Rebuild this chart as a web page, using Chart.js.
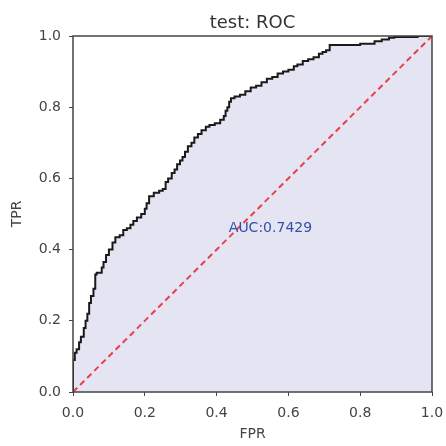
<!DOCTYPE html>
<html>
<head>
<meta charset="utf-8">
<script src="https://cdn.jsdelivr.net/npm/chart.js@4.4.1/dist/chart.umd.min.js"></script>
<style>
    html, body { margin: 0; padding: 0; background: #fff; }
    #wrap { width: 446px; height: 446px; }
</style>
</head>
<body>
<div id="wrap"><canvas id="roc"></canvas></div>
<script>
    // ROC curve points (false positive rate / true positive rate)
    const fpr = [0, 0, 0.005, 0.01, 0.017, 0.022, 0.03, 0.035, 0.04, 0.045, 0.05, 0.057, 0.062, 0.066,
        0.08, 0.085, 0.092, 0.1, 0.11, 0.118, 0.13, 0.14, 0.15, 0.16, 0.168, 0.178, 0.19, 0.2, 0.205,
        0.212, 0.225, 0.24, 0.25, 0.258, 0.265, 0.275, 0.283, 0.29, 0.298, 0.305, 0.312, 0.32, 0.33,
        0.338, 0.348, 0.358, 0.37, 0.38, 0.395, 0.41, 0.42, 0.425, 0.43, 0.435, 0.44, 0.45, 0.465,
        0.48, 0.495, 0.51, 0.525, 0.54, 0.555, 0.57, 0.585, 0.6, 0.615, 0.625, 0.64, 0.655, 0.67,
        0.685, 0.695, 0.705, 0.715, 0.722, 0.76, 0.8, 0.84, 0.86, 0.88, 0.895, 0.96, 0.98, 1];
    const tpr = [0, 0.075, 0.09, 0.11, 0.12, 0.14, 0.155, 0.18, 0.2, 0.22, 0.25, 0.27, 0.29, 0.33,
        0.335, 0.35, 0.365, 0.385, 0.4, 0.42, 0.435, 0.44, 0.455, 0.46, 0.47, 0.48, 0.49, 0.5, 0.515,
        0.53, 0.55, 0.56, 0.565, 0.57, 0.59, 0.6, 0.615, 0.625, 0.64, 0.65, 0.66, 0.675, 0.69,
        0.7, 0.715, 0.725, 0.735, 0.745, 0.75, 0.755, 0.765, 0.775, 0.79, 0.8, 0.815, 0.825, 0.83,
        0.835, 0.845, 0.855, 0.86, 0.87, 0.88, 0.885, 0.895, 0.9, 0.905, 0.915, 0.92, 0.93, 0.935,
        0.94, 0.95, 0.955, 0.96, 0.975, 0.975, 0.975, 0.978, 0.985, 0.99, 0.995, 0.997, 1, 1];
    const chanceLine = [[0, 0], [1, 1]];
    const aucValue = 0.7429;
    const ticks = [0, 0.2, 0.4, 0.6, 0.8, 1.0];

    const FONT = "'DejaVu Sans', sans-serif";

    // title, frame and AUC label drawn on top of the chart area
    const decorations = {
        id: 'decorations',
        afterDatasetsDraw(chart) {
            const { ctx, chartArea: a, scales: { x, y } } = chart;
            ctx.save();
            ctx.strokeStyle = '#444';
            ctx.lineWidth = 1.5;
            ctx.strokeRect(a.left, a.top, a.right - a.left, a.bottom - a.top);

            ctx.fillStyle = '#3550a8';
            ctx.font = '14px ' + FONT;
            ctx.textAlign = 'center';
            ctx.textBaseline = 'middle';
            ctx.fillText('AUC:' + aucValue.toFixed(4), x.getPixelForValue(0.55), y.getPixelForValue(0.46));

            ctx.fillStyle = '#333';
            ctx.font = '18px ' + FONT;
            ctx.textBaseline = 'alphabetic';
            ctx.fillText('test: ROC', (a.left + a.right) / 2, a.top - 8);
            ctx.restore();
        }
    };

    new Chart(document.getElementById('roc'), {
        type: 'scatter',
        data: {
            datasets: [
                {
                    data: chanceLine.map(p => ({ x: p[0], y: p[1] })),
                    showLine: true,
                    borderColor: '#e8404c',
                    borderWidth: 2,
                    borderDash: [6, 4],
                    pointRadius: 0,
                    fill: false,
                    order: 0
                },
                {
                    data: fpr.map((v, i) => ({ x: v, y: tpr[i] })),
                    showLine: true,
                    stepped: 'after',
                    borderColor: '#1a1a1a',
                    borderWidth: 2,
                    pointRadius: 0,
                    fill: 'origin',
                    backgroundColor: '#e4e4f3',
                    order: 1
                }
            ]
        },
        options: {
            responsive: true,
            maintainAspectRatio: false,
            animation: false,
            layout: { padding: { left: 6, right: 14, top: 36, bottom: 2 } },
            plugins: { legend: { display: false }, tooltip: { enabled: false } },
            scales: {
                x: {
                    type: 'linear', min: 0, max: 1,
                    afterBuildTicks: s => { s.ticks = ticks.map(v => ({ value: v })); },
                    afterFit: s => { s.height = 52; s.paddingLeft = 0; s.paddingRight = 0; },
                    ticks: { color: '#444', font: { family: FONT, size: 14 }, padding: 9,
                        callback: v => v.toFixed(1) },
                    grid: { drawOnChartArea: false, drawTicks: true, tickLength: 4, color: '#444' },
                    border: { display: false },
                    title: { display: true, text: 'FPR', color: '#444', font: { family: FONT, size: 14 }, padding: 1 }
                },
                y: {
                    type: 'linear', min: 0, max: 1,
                    afterBuildTicks: s => { s.ticks = ticks.map(v => ({ value: v })); },
                    afterFit: s => { s.width = 67; s.paddingTop = 0; s.paddingBottom = 0; },
                    ticks: { color: '#444', font: { family: FONT, size: 14 }, padding: 8,
                        callback: v => v.toFixed(1) },
                    grid: { drawOnChartArea: false, drawTicks: true, tickLength: 4, color: '#444' },
                    border: { display: false },
                    title: { display: true, text: 'TPR', color: '#444', font: { family: FONT, size: 14 }, padding: 3 }
                }
            }
        },
        plugins: [decorations]
    });
</script>
</body>
</html>
